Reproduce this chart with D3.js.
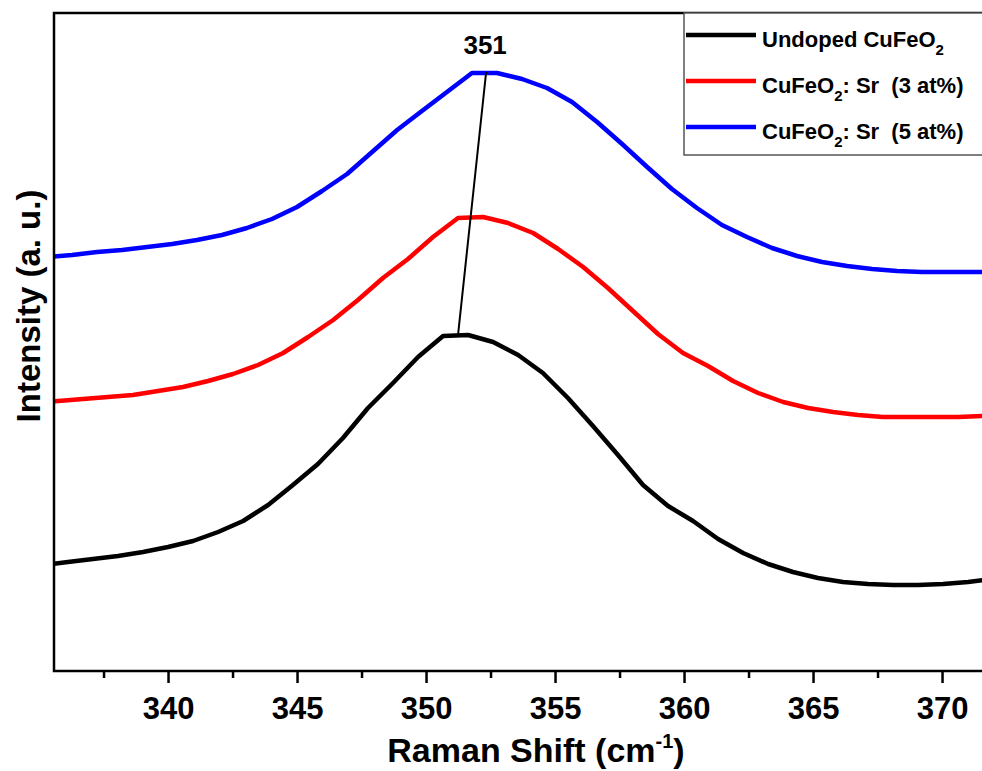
<!DOCTYPE html>
<html>
<head>
<meta charset="utf-8">
<script src="https://cdn.jsdelivr.net/npm/d3@7"></script>
<style>
  html, body { margin: 0; padding: 0; background: #fff; }
  svg { display: block; font-family: "Liberation Sans", Arial, sans-serif; font-weight: bold; }
  text { white-space: pre; }
</style>
</head>
<body>
<div id="chart"></div>
<script>
// Raman spectra of CuFeO2 (undoped and Sr-doped), intensities in a.u.

const undopedX = [335.16, 336.12, 337.09, 338.06, 339.03, 340.00, 340.97, 341.94, 342.91, 343.88,
  344.84, 345.81, 346.78, 347.75, 348.72, 349.69, 350.66, 351.63, 352.60, 353.57,
  354.53, 355.50, 356.47, 357.44, 358.41, 359.38, 360.35, 361.32, 362.29, 363.26,
  364.22, 365.19, 366.16, 367.13, 368.10, 369.07, 370.04, 371.01, 371.98];
const undopedY = [106, 109, 112, 115, 119, 124, 130, 139, 150, 166,
  186, 207, 233, 263, 288, 314, 335, 336, 329, 316,
  298, 273, 245, 216, 186, 165, 150, 132, 118, 107,
  99, 93, 89, 87, 86, 86, 87, 89, 92];

const sr3X = [334.77, 335.74, 336.70, 337.67, 338.64, 339.61, 340.58, 341.55, 342.52, 343.49,
  344.46, 345.43, 346.40, 347.36, 348.33, 349.30, 350.27, 351.24, 352.21, 353.18,
  354.15, 355.12, 356.09, 357.05, 358.02, 358.99, 359.96, 360.93, 361.90, 362.87,
  363.84, 364.81, 365.78, 366.74, 367.71, 368.68, 369.65, 370.62, 371.59];
const sr3Y = [268, 270, 272, 274, 276, 280, 284, 290, 297, 306,
  318, 334, 351, 371, 393, 412, 434, 453, 454, 448,
  438, 422, 404, 383, 360, 337, 318, 305, 290, 278,
  269, 263, 259, 256, 254, 254, 254, 254, 255];

const sr5X = [334.34, 335.31, 336.28, 337.25, 338.22, 339.19, 340.16, 341.12, 342.09, 343.06,
  344.03, 345.00, 345.97, 346.94, 347.91, 348.88, 349.84, 350.81, 351.78, 352.75,
  353.72, 354.69, 355.66, 356.63, 357.60, 358.57, 359.53, 360.50, 361.47, 362.44,
  363.41, 364.38, 365.35, 366.32, 367.29, 368.26, 369.22, 370.19, 371.16, 372.13];
const sr5Y = [412, 414, 416, 419, 421, 424, 427, 431, 436, 443,
  452, 464, 480, 497, 519, 541, 560, 579, 598, 598,
  592, 583, 569, 549, 527, 504, 482, 463, 446, 434,
  423, 415, 409, 405, 402, 400, 399, 399, 399, 399];

const seriesNames = ["Undoped CuFeO|2|", "CuFeO|2|: Sr  (3 at%)", "CuFeO|2|: Sr  (5 at%)"];
const seriesColors = ["#000000", "#ff0000", "#0000ff"];

const majorTicks = [340, 345, 350, 355, 360, 365, 370];
const minorTicks = [337.5, 342.5, 347.5, 352.5, 357.5, 362.5, 367.5];

// peak shift guide: undoped peak -> 5 at% peak
const peakLineX = [351.24, 352.33];
const peakLineY = [336, 599];
const peakLabel = "351";
const peakLabelX = 352.29;

const width = 982;
const height = 771;
const margin = { top: 13, left: 54, bottom: 100 };

const svg = d3.select("#chart")
  .append("svg")
  .attr("width", width)
  .attr("height", height);

const x = d3.scaleLinear()
  .domain([335.58, 372.5])
  .range([margin.left, margin.left + (372.5 - 335.58) * 25.8]);

const y = d3.scaleLinear()
  .domain([0, 658])
  .range([height - margin.bottom, margin.top]);

const plotRight = x(372.5);

svg.append("clipPath")
  .attr("id", "plot-clip")
  .append("rect")
  .attr("x", margin.left)
  .attr("y", margin.top)
  .attr("width", plotRight - margin.left)
  .attr("height", y(0) - margin.top);

const line = d3.line()
  .x(d => x(d[0]))
  .y(d => y(d[1]));

const allSeries = [
  d3.zip(undopedX, undopedY),
  d3.zip(sr3X, sr3Y),
  d3.zip(sr5X, sr5Y)
];

const plot = svg.append("g").attr("clip-path", "url(#plot-clip)");

allSeries.forEach((pts, i) => {
  plot.append("path")
    .attr("d", line(pts))
    .attr("fill", "none")
    .attr("stroke", seriesColors[i])
    .attr("stroke-width", 4.5)
    .attr("stroke-linejoin", "round");
});

plot.append("line")
  .attr("x1", x(peakLineX[0]))
  .attr("y1", y(peakLineY[0]))
  .attr("x2", x(peakLineX[1]))
  .attr("y2", y(peakLineY[1]))
  .attr("stroke", "#000")
  .attr("stroke-width", 2);

svg.append("text")
  .attr("x", x(peakLabelX))
  .attr("y", 54)
  .attr("text-anchor", "middle")
  .style("font-size", "26px")
  .text(peakLabel);

// frame
svg.append("rect")
  .attr("x", margin.left)
  .attr("y", margin.top)
  .attr("width", plotRight - margin.left)
  .attr("height", y(0) - margin.top)
  .attr("fill", "none")
  .attr("stroke", "#000")
  .attr("stroke-width", 2.5);

// x axis
const xAxisG = svg.append("g")
  .attr("transform", `translate(0,${y(0)})`)
  .call(d3.axisBottom(x).tickValues(majorTicks).tickSize(12).tickPadding(14).tickFormat(d3.format("d")));
xAxisG.select(".domain").remove();
xAxisG.selectAll("line").attr("stroke-width", 2.5);
xAxisG.selectAll("text")
  .style("font-size", "31px")
  .style("font-family", "'Liberation Sans', Arial, sans-serif")
  .style("font-weight", "bold")
  .attr("fill", "#000");

const minorG = svg.append("g")
  .attr("transform", `translate(0,${y(0)})`)
  .call(d3.axisBottom(x).tickValues(minorTicks).tickSize(7).tickFormat(""));
minorG.select(".domain").remove();
minorG.selectAll("line").attr("stroke-width", 2.5);

// axis titles
const xt = svg.append("text")
  .attr("x", 536)
  .attr("y", 762)
  .attr("text-anchor", "middle")
  .style("font-size", "34px");
xt.append("tspan").text("Raman Shift (cm");
xt.append("tspan").attr("dy", -14).style("font-size", "20px").text("-1");
xt.append("tspan").attr("dy", 14).text(")");

svg.append("text")
  .attr("transform", `translate(40,306) rotate(-90)`)
  .attr("text-anchor", "middle")
  .style("font-size", "33px")
  .text("Intensity (a. u.)");

// legend
const legend = svg.append("g").attr("transform", "translate(684,13)");
legend.append("rect")
  .attr("x", 0)
  .attr("y", 0)
  .attr("width", 320)
  .attr("height", 142)
  .attr("fill", "#fff")
  .attr("stroke", "#555")
  .attr("stroke-width", 1.5);

seriesNames.forEach((name, i) => {
  const row = legend.append("g").attr("transform", `translate(0,${22 + i * 46})`);
  row.append("line")
    .attr("x1", 2)
    .attr("x2", 72)
    .attr("y1", 0)
    .attr("y2", 0)
    .attr("stroke", seriesColors[i])
    .attr("stroke-width", 4.5);
  const parts = name.split("|");
  const t = row.append("text")
    .attr("x", 78)
    .attr("y", 12)
    .style("font-size", "22px");
  t.append("tspan").text(parts[0]);
  t.append("tspan").attr("dy", 8).style("font-size", "15px").text(parts[1]);
  if (parts[2]) t.append("tspan").attr("dy", -8).text(parts[2]);
});
</script>
</body>
</html>
